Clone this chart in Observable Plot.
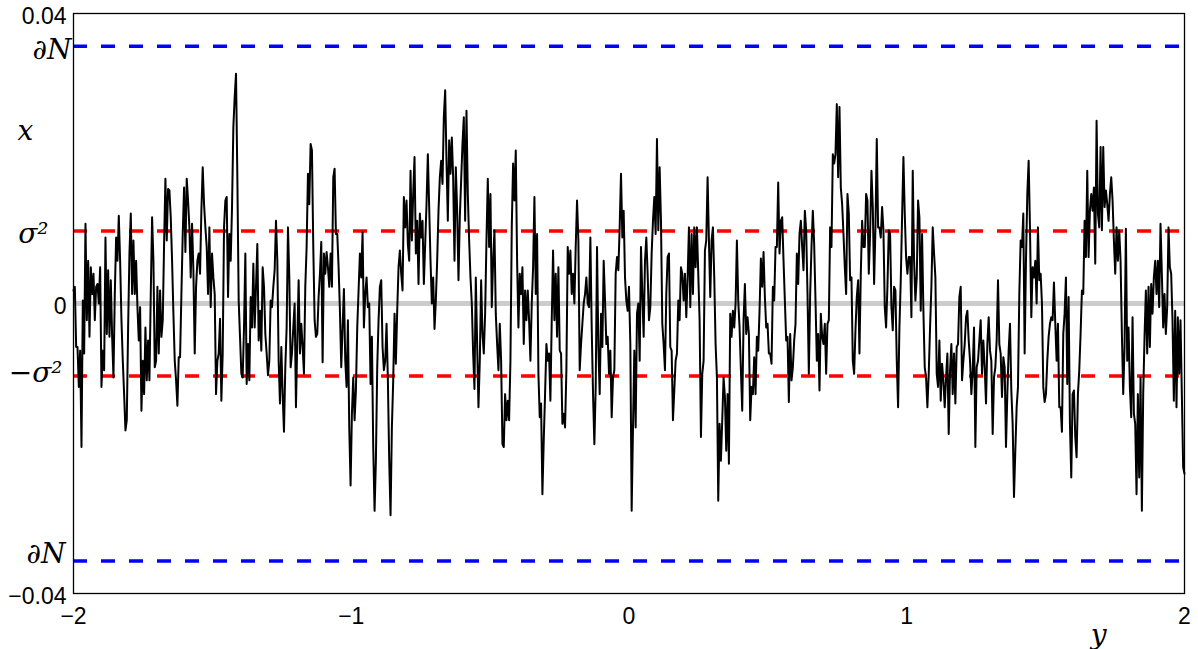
<!DOCTYPE html>
<html>
<head>
<meta charset="utf-8">
<script src="https://cdn.jsdelivr.net/npm/d3@7"></script>
<script src="https://cdn.jsdelivr.net/npm/@observablehq/plot@0.6"></script>
<style>
  html, body { margin: 0; padding: 0; background: #ffffff; }
  #chart svg { display: block; }
</style>
</head>
<body>
<div id="chart"></div>
<script>
// ---------- data ----------
const xTicks = [-2, -1, 0, 1, 2];
const xTickLabels = ["\u22122", "\u22121", "0", "1", "2"];
const yTicks = [-0.04, 0, 0.04];
const yTickLabels = ["\u22120.04", "0", "0.04"];
const symTicks = [0.0355, 0.01, -0.01, -0.0355];
const symLabels = ["\u2202N", "\u03c3\u00b2", "\u2212\u03c3\u00b2", "\u2202N"];
const zeroLevel = [0];
const sigmaLevels = [0.01, -0.01];
const boundaryLevels = [0.0355, -0.0355];
const verticalName = "x";
const horizontalName = "y";
const xRange = [-2, 2];
const yRange = [-0.04, 0.04];
const UNIT = 0.001; // path values below are in thousandths

const pathValues = [
  1.8, 2.3, -6.0, -6.0, -11.5, -6.5, -19.8, 0.4, -6.9, 11.0,
  -2.3, 5.9, -4.6, 5.0, 1.3, 4.1, -2.3, 2.3, 2.7, 0,
  5.0, -11.5, -6.5, -9.2, 9.1, -4.2, 4.6, -4.6, 3.2, -4.6,
  -10.2, 1.3, 9.1, 5.9, 12.1, 5.9, -2.3, -7.9, -12.5, -17.5,
  -16.1, -3.3, 6.9, 12.4, 1.3, 8.7, 1.3, 5.9, -0.5, -5.1,
  -0.5, -14.8, -7.9, -12.5, -3.3, -10.6, -5.1, -10.6, 1.3, 11.9,
  5.9, -8.8, -7.9, 2.3, -6.9, 1.8, -4.6, -2.3, 8.2, 17.2,
  8.7, 15.8, 15.6, 11.9, 5.9, -1.4, -7.9, -10.6, -14.1, -7.4,
  -7.4, 1.3, 9.6, 16.0, 7.1, 17.2, 14.2, 10.5, 3.6, 11.0,
  4.6, -6.9, 2.3, 5.9, 6.9, 4.1, 12.8, 18.8, 13.7, 10.5,
  7.8, 1.3, 10.5,
  -0.5, 6.9, 3.6, 1.3, -12.5, -7.9, -6.9, -2.1, -13.4, -6.9,
  10.5, 14.2, 14.7, 0.9, 9.6, 5.9, 13.3, 24.3, 28.5, 31.7,
  17.4, 0.4, -4.6, -9.7, -10.2, -3.3, 6.9, -11.1, -5.6, -10.6,
  0.9, -3.3, 5.5, -3.3, 2.3, 8.2, -5.1, -1.0, -6.5, 5.0,
  2.3, -4.2, -6.9, -9.9, -7.9, 0.4, -0.5, 2.3, 4.6, 11.4,
  5.9, -7.9, -13.8, -6.0, -12.5, -17.7, -8.8, -3.3, 10.5, 3.6,
  -8.8, -6.9, -3.3, 0, -14.3, -5.1, 3.2, -6.9, -2.8, -6.0,
  -9.7, 2.3, 7.8, 17.9, 13.7, 22.0, 21.1, 7.8, -2.3, -4.6,
  -4.2, 0.9, 4.1, 8.5, -8.1, 6.9, 4.1, 7.1, 5.0, 2.3,
  6.9, 2.3, 17.4, 18.6, 9.6, 9.6, 5.0, -1.0, -8.8, -3.3,
  2.0, -7.9, -11.5, -2.3, -17.1,
  -25.1, -15.2, -10.2, -16.1, -12.0, -3.3, 1.8, 6.9, 3.6, 9.8,
  -3.3, 1.3, 3.6, -0.5, 0, -11.1, -4.6, -19.8, -28.6, -21.7,
  -8.8, -2.3, 2.3, 3.2, -6.0, -9.2, -7.9, -2.8, -10.6, -21.7,
  -29.2, -17.1, -10.6, -1.4, -8.3, -1.0, 5.0, 7.3, 4.1, 1.8,
  14.7, 10.5, 14.2, 8.2, 5.9, 18.3, 8.7, 15.1, 20.2, 6.9,
  11.4, 2.7, 12.4, 9.1, 11.4, 2.7, 8.2, 13.7, 20.6, 13.3,
  5.9, 0, 3.6, -3.5, 0.4, 5.9, 12.8, 17.4, 19.7, 16.5,
  25.7, 29.4, 19.7, 11.4, 22.5, 17.9, 22.9, 17.4, 5.9, 18.8,
  12.8, 3.2, 11.9, 17.0, 22.0, 25.7, 11.4, 26.6, 15.1, 8.7,
  3.6, 0, -6.9, -11.8, 3.6, -5.6, -14.3, -7.9, 3.2, -4.2,
  -6.9, -1.4, 8.7, 17.2, 7.8,
  15.1, -0.5, 5.9, 10.1, -1.4, -5.6, -9.2, -2.8, -7.9, -19.4,
  -19.8, -12.5, -16.1, -13.4, -16.1, -7.9, 10.5, 19.3, 14.2, 21.1,
  5.9, -3.3, 4.1, 1.3, 5.0, -5.6, 1.8, -2.3, 1.8, -2.3,
  -7.9, 0, 5.0, 14.7, 1.3, 9.6, -9.7, -15.7, -13.8, -26.3,
  -18.9, -12.5, -5.6, -7.9, -6.9, -13.4, -2.3, 7.3, -2.3, 4.1,
  -4.6, 5.0, -6.5, -6.9, -16.6, -15.2, -17.1, -9.2, 7.8, 4.1,
  7.3, 1.3, 4.1, 0, 7.8, 14.2, 8.7, -9.2, -5.6, -2.8,
  0, 1.3, 3.6, 0, -0.5, 9.1, -3.3, -12.5, -19.4, -11.5,
  7.8, -6.0, -12.5, -1.4, -6.0, 5.9, 0.4, -5.6, -4.6, -9.7,
  -6.5, -15.7, -10.2, -9.2, 4.1, 6.4, 4.6, 10.5, 17.9, 9.1,
  12.8, 3.6, 0.4, -1.0, 2.3,
  -5.6, -28.6, -17.1, -6.5, -17.1, -1.4, 0, -7.9, 7.8, 1.3,
  -4.6, 5.9, 9.1, 4.1, -2.3, -0.5, 6.9, 11.4, 14.7, 9.6,
  22.7, 10.1, 18.8, 11.4, -2.8, -5.6, -9.2, 1.3, 6.4, 6.9,
  -6.0, -6.5, -16.1, -12.0, -7.9, -6.9, 0.4, -2.3, 5.0, 4.1,
  0.4, 4.1, -1.9, 3.6, 10.5, -0.5, 9.6, 1.3, 10.5, 5.0,
  10.5, 4.1, -2.3, -18.4, -9.7, -7.9, 7.3, 8.7, 17.4, 8.7,
  0.9, 8.7, 10.5, 3.6, -5.6, -10.2, -27.2, -16.6, -21.7, -16.1,
  -10.2, -12.9, -20.3, -12.5, -22.1, -1.4, -4.6, -1.0, -3.3, 0,
  8.7, 0.4, -3.3, -9.2, -14.8, -2.3, 2.7, -4.2, -1.9, -4.2,
  -16.1, -11.5, -12.5, -7.4, -12.5, -4.6, -6.5, -1.0, 6.2, 2.3,
  7.1, 0.9, -3.3, -2.8, -6.9,
  -6.9, -8.3, 2.3, 0.4, 7.8, 7.8, 16.7, 6.9, 11.4, 11.9,
  5.9, 0.4, -5.1, -4.6, -13.6, -4.2, -10.6, -8.8, -5.1, -2.8,
  6.9, 2.7, 9.6, 11.4, 7.8, 4.6, 12.8, 10.1, 1.3, -9.7,
  1.3, 7.8, 12.8, 8.2, 0.4, -7.9, -4.2, -12.0, -1.4, -4.6,
  -5.6, -2.8, -9.7, -2.8, -2.3, 10.5, 7.8, 20.6, 19.3, 20.6,
  27.5, 17.4, 27.1, 16.0, 13.7, 9.6, 5.0, 1.3, 15.1, 12.4,
  3.2, 3.6, -7.9, -9.7, -3.7, 0.9, 3.2, -6.9, 4.1, 11.4,
  7.8, 7.8, 15.1, 14.2, 4.1, 9.6, 18.3, 13.3, 2.7, 10.5,
  22.7, 10.5, 10.5, 9.1, 13.3, 10.1, -0.5, -3.3, 2.3, 10.1,
  9.6, -0.5, -3.7, 2.3, 1.8, -7.9, -14.3, -3.3, 3.2, 11.9,
  20.2, 12.4, 6.4, 4.1, 6.4,
  6.4, -1.9, 18.3, 5.9, 0.4, 3.6, 14.2, 11.9, -1.0, 9.6,
  -1.0, -8.8, -10.2, -14.3, -9.7, -3.3, 2.3, 10.5, 6.9, 3.6,
  -9.7, -11.5, -5.1, -13.4, -8.3, -10.6, -14.3, -10.2, -6.9, -18.0,
  -9.2, -5.6, -12.5, -6.9, -13.8, -6.0, -5.6, 0.9, 2.3, -10.6,
  -7.9, -5.6, -1.9, -1.0, -5.1, -7.9, -12.5, -9.2, -3.3, -19.8,
  -8.8, -7.9, -5.1, -2.3, -9.7, -5.1, -8.8, -13.8, -5.6, -1.9,
  -6.5, -7.9, -18.0, -10.2, -8.8, -5.1, 3.2, -5.6, -6.9, -12.9,
  -7.4, -8.8, -19.8, -12.5, -6.5, -2.8, -12.0, -16.6, -26.7, -20.3,
  -14.3, -11.5, 1.3, 8.7, 7.8, 12.4, -6.9, 5.9, 15.1, 19.7,
  10.5, -1.9, 5.0, 3.6, 5.9, 0, 10.5, 3.2, 4.1, 0,
  -11.5, -13.6,
  -12.5, -7.9, -4.6, -2.8, -1.9, -2.3, 2.9, -2.8, -7.9, -2.8,
  -14.3, -14.3, -17.7, -4.2, -1.4, 3.6, -11.1, 0.9, -16.6, -24.0,
  -12.5, -12.0, -18.4, -21.2, -12.5, -9.2, -4.2, 1.8, 1.3, 11.4,
  6.4, 18.3, 6.4, 12.8, 15.1, 12.8, 16.0, 5.5, 25.2, 12.4,
  10.5, 21.6, 10.1, 21.6, 13.3, 15.6, 13.7, 11.4, 15.1, 17.4,
  14.2, 8.7, 4.1, 10.5, 5.9, 10.1, 5.9, -4.2, -12.5, -6.0,
  10.3, -7.9, -3.3, -11.5, -15.7, -1.9, -15.2, -16.6, -26.3, -12.5,
  -24.0, -10.2, -28.6, -12.5, -4.6, 1.8, -6.9, 2.3, -6.0, 2.7,
  -1.4, 3.6, 5.9, 1.3, 5.9, -0.5, 11.0, 4.1, -3.3, 1.3,
  -4.2, -0.5, 10.5, 5.0, 4.1, -2.3, -13.4, -1.0, -14.3, -1.9,
  -9.7, -2.3, -12.5, -22.6, -23.5
];

// table for the line mark (uniformly sampled over the x range)
const n = pathValues.length;
const path = pathValues.map((v, i) => ({
  t: xRange[0] + (xRange[1] - xRange[0]) * i / (n - 1),
  v: v * UNIT
}));

// ---------- layout (kept separate from the data) ----------
const sansFont = "'Liberation Sans', Arial, Helvetica, sans-serif";
const mathFont = "'DejaVu Serif', 'Liberation Serif', serif";
const symNudge = [[5, 4], [-18, 3], [-4, -3], [-1, -7]];

const marks = [
  Plot.ruleY(zeroLevel, {stroke: "#cccccc", strokeWidth: 5}),
  Plot.ruleY(sigmaLevels, {stroke: "#ff0000", strokeWidth: 3.5, strokeDasharray: "14,14"}),
  Plot.ruleY(boundaryLevels, {stroke: "#0000ff", strokeWidth: 3.5, strokeDasharray: "14,14"}),
  Plot.line(path, {x: "t", y: "v", stroke: "#000000", strokeWidth: 2}),
  Plot.frame({stroke: "#000000", strokeWidth: 1.3}),
  Plot.axisX({
    ticks: xTicks, tickSize: 0, tickPadding: 14, label: null,
    tickFormat: d => xTickLabels[xTicks.indexOf(d)],
    fontFamily: sansFont, fontSize: 23, fill: "#000000"
  }),
  Plot.axisY({
    ticks: yTicks, tickSize: 0, tickPadding: 7, label: null, dy: 3,
    tickFormat: d => yTickLabels[yTicks.indexOf(d)],
    fontFamily: sansFont, fontSize: 23, fill: "#000000"
  }),
  ...symTicks.map((t, i) => Plot.axisY({
    ticks: [t], tickSize: 0, tickPadding: 7, label: null,
    dx: symNudge[i][0], dy: symNudge[i][1],
    tickFormat: () => symLabels[i],
    fontFamily: mathFont, fontStyle: "italic", fontSize: 28, fill: "#000000"
  })),
  Plot.text([verticalName], {
    frameAnchor: "top-left", dx: -56, dy: 107, text: d => d,
    fontFamily: mathFont, fontStyle: "italic", fontSize: 28, fill: "#000000"
  }),
  Plot.text([horizontalName], {
    frameAnchor: "bottom-right", dx: -78, dy: 50, text: d => d,
    fontFamily: mathFont, fontStyle: "italic", fontSize: 28, fill: "#000000"
  })
];

const chart = Plot.plot({
  width: 1198,
  height: 649,
  marginLeft: 73,
  marginRight: 14,
  marginTop: 13,
  marginBottom: 56,
  x: {domain: xRange},
  y: {domain: yRange},
  style: {background: "#ffffff", fontFamily: sansFont, overflow: "visible"},
  marks
});
document.getElementById("chart").appendChild(chart);
</script>
</body>
</html>
